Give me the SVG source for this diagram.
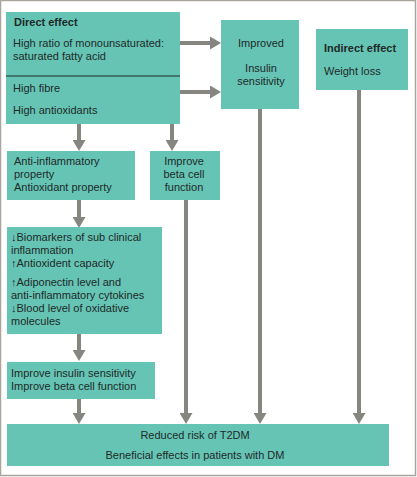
<svg xmlns="http://www.w3.org/2000/svg" width="417" height="477" viewBox="0 0 417 477">
<defs>
<style>
.box{fill:#66c4b5;}
.t{font-family:"Liberation Sans",Arial,sans-serif;font-size:11px;fill:#1e2a28;}
.b{font-weight:bold;}
.c{text-anchor:middle;}
.ln{stroke:#868580;stroke-width:4;fill:none;}
.ar{marker-end:url(#ah);}
</style>
<marker id="ah" markerUnits="userSpaceOnUse" markerWidth="11" markerHeight="13" refX="5" refY="6.5" orient="auto" viewBox="0 0 11 13">
<path d="M0,0 L11,6.5 L0,13 z" fill="#868580"/>
</marker>
</defs>
<rect x="0.5" y="0.5" width="415" height="475" fill="#ffffff" stroke="#a9a59d" stroke-width="1.5"/>

<g id="connectors">
<line class="ln ar" x1="180" y1="43" x2="215" y2="43"/>
<line class="ln ar" x1="180" y1="92" x2="215" y2="92"/>
<line class="ln ar" x1="79" y1="124" x2="79" y2="145"/>
<line class="ln ar" x1="172" y1="124" x2="172" y2="145"/>
<line class="ln ar" x1="79" y1="200" x2="79" y2="222"/>
<line class="ln ar" x1="79" y1="334" x2="79" y2="355"/>
<line class="ln ar" x1="79" y1="399" x2="79" y2="418"/>
<line class="ln ar" x1="186" y1="200" x2="186" y2="418"/>
<line class="ln ar" x1="260" y1="109" x2="260" y2="418"/>
<line class="ln ar" x1="359" y1="90" x2="359" y2="418"/>
</g>

<g id="direct">
<rect class="box" x="6" y="12" width="174" height="112"/>
<line x1="6" y1="76" x2="180" y2="76" stroke="#1e2a28" stroke-width="1"/>
<text class="t b" x="14" y="26">Direct effect</text>
<text class="t" x="13" y="47">High ratio of monounsaturated:</text>
<text class="t" x="13" y="60">saturated fatty acid</text>
<text class="t" x="13" y="92">High fibre</text>
<text class="t" x="13" y="114">High antioxidants</text>
</g>

<g id="improved">
<rect class="box" x="221" y="20" width="78" height="89"/>
<text class="t c" x="261" y="47">Improved</text>
<text class="t c" x="261" y="72">Insulin</text>
<text class="t c" x="261" y="85">sensitivity</text>
</g>

<g id="indirect">
<rect class="box" x="316" y="29" width="92" height="61"/>
<text class="t b" x="324" y="52">Indirect effect</text>
<text class="t" x="324" y="75">Weight loss</text>
</g>

<g id="antiinflam">
<rect class="box" x="7" y="151" width="128" height="49"/>
<text class="t" x="14" y="165">Anti-inflammatory</text>
<text class="t" x="14" y="178">property</text>
<text class="t" x="14" y="191">Antioxidant property</text>
</g>

<g id="betacell">
<rect class="box" x="150" y="151" width="70" height="49"/>
<text class="t c" x="184" y="165">Improve</text>
<text class="t c" x="184" y="178">beta cell</text>
<text class="t c" x="184" y="191">function</text>
</g>

<g id="biomarkers">
<rect class="box" x="7" y="227" width="155" height="107"/>
<text class="t" x="11" y="241">↓Biomarkers of sub clinical</text>
<text class="t" x="11" y="254">inflammation</text>
<text class="t" x="11" y="267">↑Antioxident capacity</text>
<text class="t" x="11" y="286">↑Adiponectin level and</text>
<text class="t" x="11" y="299">anti-inflammatory cytokines</text>
<text class="t" x="11" y="312">↓Blood level of oxidative</text>
<text class="t" x="11" y="325">molecules</text>
</g>

<g id="improveinsulin">
<rect class="box" x="7" y="362" width="148" height="37"/>
<text class="t" x="11" y="377">Improve insulin sensitivity</text>
<text class="t" x="11" y="390">Improve beta cell function</text>
</g>

<g id="outcome">
<rect class="box" x="7" y="424" width="382" height="42"/>
<text class="t c" x="195" y="439">Reduced risk of T2DM</text>
<text class="t c" x="195" y="459">Beneficial effects in patients with DM</text>
</g>
</svg>
